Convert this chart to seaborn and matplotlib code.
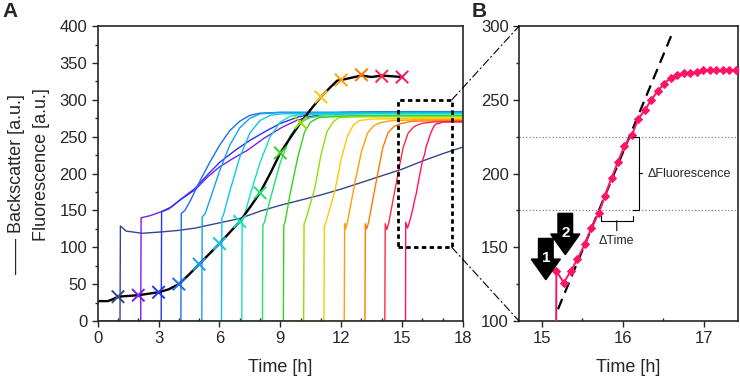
import matplotlib
matplotlib.use("Agg")
import pandas as pd
import matplotlib.pyplot as plt
import seaborn as sns
from matplotlib.patches import Rectangle, ConnectionPatch, FancyArrow
from matplotlib.ticker import MultipleLocator


# ----------------------------
# Data
# ----------------------------

curve_ids = list(range(1, 16))

curve_colors = ['#34468c', '#7a1fe8', '#2535f0', '#1a6ff5', '#18a0f0',
                '#10c4f0', '#10e0c0', '#20e070', '#38d020', '#90e000',
                '#ffc800', '#ffa000', '#ff7a00', '#ff2848', '#ff1464']

# panel B: zoom on the last fluorescence curve
b_time = [15.17, 15.18, 15.27, 15.36, 15.44, 15.53, 15.61, 15.70, 15.78,
          15.86, 15.94, 16.02, 16.11, 16.19, 16.27, 16.35, 16.43, 16.51,
          16.59, 16.67, 16.75, 16.83, 16.91, 16.99, 17.07, 17.15, 17.23,
          17.31, 17.39]
b_value = [0, 134, 126, 134, 142, 152, 163, 173, 185,
           197, 208, 219, 226, 237, 243, 250, 256, 261,
           265, 267, 268, 268, 269, 270, 270, 270, 270,
           270, 270]

fit_time = [15.2, 16.6]
fit_value = [108, 294]

# fluorescence curves of panel A
fluo_time = [
    [0.1, 1.10, 1.12, 1.4, 2.2, 3.2, 4.0, 4.8, 5.8, 7.0, 8.0, 9.0, 10.0,
     11.0, 12.0, 13.0, 14.0, 15.0, 16.0, 17.0, 18.0],
    [1.1, 2.12, 2.14, 2.6, 3.1, 3.65, 4.05, 4.8, 5.4, 6.0, 6.7, 7.4, 8.2,
     9.1, 9.8, 10.4, 11.0, 12.0, 14.0, 16.0, 18.0],
    [2.1, 3.13, 3.15, 3.5, 4.0, 4.8, 5.4, 6.0, 6.8, 7.5, 8.25, 9.0, 9.9,
     10.6, 12.0, 15.0, 18.0],
    [3.1, 4.10, 4.12, 4.3, 4.6, 5.0, 5.5, 6.0, 6.5, 7.0, 7.5, 8.0, 9.0,
     12.0, 15.0, 18.0],
    [4.1, 5.13, 5.15, 5.3, 5.6, 6.0, 6.5, 7.0, 7.5, 8.0, 9.0, 12.0, 15.0, 18.0],
    [5.1, 6.10, 6.12, 6.2, 6.5, 7.0, 7.5, 8.0, 8.5, 9.0, 12.0, 15.0, 18.0],
    [6.1, 7.10, 7.12, 7.2, 7.5, 8.0, 8.5, 9.0, 9.5, 10.0, 13.0, 18.0],
    [7.1, 8.12, 8.14, 8.22, 8.5, 9.0, 9.5, 10.0, 10.5, 11.0, 14.0, 18.0],
    [8.1, 9.15, 9.17, 9.24, 9.5, 9.87, 10.2, 10.5, 10.9, 11.5, 14.0, 18.0],
    [9.1, 10.15, 10.17, 10.25, 10.7, 11.0, 11.3, 11.6, 11.9, 12.5, 15.0, 18.0],
    [10.1, 11.15, 11.17, 11.24, 11.7, 12.0, 12.3, 12.6, 12.9, 13.5, 16.0, 18.0],
    [11.1, 12.15, 12.17, 12.22, 12.3, 12.7, 13.0, 13.3, 13.6, 13.9, 14.5,
     16.0, 18.0],
    [12.1, 13.17, 13.19, 13.26, 13.35, 13.8, 14.05, 14.3, 14.6, 14.96, 15.5, 18.0],
    [13.1, 14.15, 14.17, 14.25, 14.35, 14.8, 15.05, 15.3, 15.6, 15.96, 16.5, 18.0],
    [14.2] + b_time + [18.0],
]
fluo_value = [
    [0, 0, 129, 122, 119, 121, 123, 126, 132, 139, 149, 157, 164,
     171, 179, 188, 197, 206, 217, 227, 236],
    [0, 0, 140, 143, 148, 155, 164, 178, 195, 209, 221, 232, 248,
     263, 272, 277, 280, 281, 282, 283, 283],
    [0, 0, 148, 152, 163, 180, 198, 215, 232, 245, 257, 268, 277,
     281, 283, 284, 284],
    [0, 0, 146, 150, 165, 188, 214, 238, 258, 271, 279, 282, 283,
     283, 284, 284],
    [0, 0, 141, 146, 170, 203, 238, 262, 275, 281, 283, 283, 283, 283],
    [0, 0, 140, 144, 175, 222, 255, 272, 279, 281, 282, 282, 282],
    [0, 0, 137, 140, 170, 215, 250, 270, 278, 280, 281, 281],
    [0, 0, 130, 134, 165, 215, 252, 270, 276, 278, 279, 279],
    [0, 0, 130, 135, 175, 223, 257, 270, 276, 277, 278, 278],
    [0, 0, 132, 137, 180, 225, 257, 270, 276, 277, 277, 277],
    [0, 0, 128, 133, 178, 220, 250, 266, 272, 274, 275, 275],
    [0, 0, 132, 125, 133, 191, 230, 255, 265, 269, 272, 273, 273],
    [0, 0, 132, 125, 134, 200, 235, 255, 264, 268, 271, 272],
    [0, 0, 132, 124, 134, 200, 235, 255, 264, 268, 270, 271],
    [0] + b_value + [270],
]

# backscatter (black)
bs_time = [0, 0.5, 0.7, 1.0, 1.5, 2.0, 2.5, 3.0, 3.5, 4.0, 4.5, 5.0, 5.5,
           6.0, 6.5, 7.0, 7.5, 8.0, 8.5, 9.0, 9.5, 10.0, 10.5, 11.0, 11.5,
           11.8, 12.0, 12.5, 13.0, 13.5, 14.0, 14.5, 15.0]
bs_value = [27, 27, 29, 33, 34, 35, 37, 39, 43, 50, 63, 77, 91,
            105, 120, 135, 154, 174, 200, 228, 249, 269, 287, 304, 318,
            326, 327, 330, 333, 331, 333, 332, 331]

# sampling crosses on the backscatter curve
marker_time = list(range(1, 16))
marker_value = [33, 35, 39, 50, 77, 105, 135, 174, 228, 269, 304, 327, 334, 332, 331]


# ----------------------------
# Style
# ----------------------------

sns.set_style("ticks")
plt.rcParams['font.family'] = ['Liberation Sans', 'DejaVu Sans']
plt.rcParams['axes.linewidth'] = 1.2

fig = plt.figure(figsize=(7.4, 3.79), dpi=100)
axA = fig.add_axes([0.132, 0.153, 0.4936, 0.778])
axB = fig.add_axes([0.7014, 0.153, 0.296, 0.778])

palette = dict(zip(curve_ids, curve_colors))


# ----------------------------
# Panel A
# ----------------------------

rows = []
for cid, ts, vs in zip(curve_ids, fluo_time, fluo_value):
    for t, v in zip(ts, vs):
        rows.append((cid, t, v))
df = pd.DataFrame(rows, columns=['curve', 'time', 'value'])

sns.lineplot(data=df, x='time', y='value', hue='curve', hue_order=curve_ids,
             palette=palette, estimator=None, errorbar=None, legend=False,
             lw=1.0, ax=axA)

sns.lineplot(x=bs_time, y=bs_value, color='black', lw=1.7,
             estimator=None, errorbar=None, ax=axA)

sns.scatterplot(x=marker_time, y=marker_value, hue=curve_ids, palette=palette,
                marker='x', s=80, linewidth=1.4, legend=False, ax=axA, zorder=4)

axA.set_xlim(0, 18)
axA.set_ylim(0, 400)
axA.xaxis.set_major_locator(MultipleLocator(3))
axA.xaxis.set_minor_locator(MultipleLocator(1))
axA.yaxis.set_major_locator(MultipleLocator(50))
axA.yaxis.set_minor_locator(MultipleLocator(25))
axA.set_xlabel('Time [h]', fontsize=13, labelpad=9)
axA.set_ylabel('')

axA.add_patch(Rectangle((14.78, 100), 17.45 - 14.78, 200, fill=False,
                        ec='black', lw=2, ls=(0, (1.6, 1.2)), zorder=5))


# ----------------------------
# Panel B
# ----------------------------

axB.axhline(225, color='gray', ls=':', lw=0.9)
axB.axhline(175, color='gray', ls=':', lw=0.9)

sns.lineplot(x=fit_time, y=fit_value, color='black', lw=1.6,
             linestyle=(0, (5, 3)), ax=axB)

sns.lineplot(x=b_time, y=b_value, color=curve_colors[-1], lw=1.4,
             marker='D', markersize=4.5, markeredgecolor=curve_colors[-1],
             estimator=None, errorbar=None, ax=axB, zorder=3)

axB.set_xlim(14.72, 17.42)
axB.set_ylim(100, 300)
axB.xaxis.set_major_locator(MultipleLocator(1))
axB.xaxis.set_minor_locator(MultipleLocator(0.5))
axB.yaxis.set_major_locator(MultipleLocator(50))
axB.yaxis.set_minor_locator(MultipleLocator(25))
axB.set_xlabel('Time [h]', fontsize=13, labelpad=9)
axB.set_ylabel('')

# brackets
axB.annotate('ΔFluorescence', xy=(16.2, 200), xytext=(16.3, 200),
             fontsize=9, va='center', ha='left',
             arrowprops=dict(arrowstyle='-[, widthB=2.9, lengthB=0.5',
                             lw=0.8, color='black', shrinkA=1, shrinkB=0))
axB.annotate('ΔTime', xy=(15.925, 168), xytext=(15.925, 154),
             fontsize=9, va='center', ha='center',
             arrowprops=dict(arrowstyle='-[, widthB=1.3, lengthB=0.4',
                             lw=0.8, color='black', shrinkA=1, shrinkB=0))

# block arrows 1 and 2
axB.add_patch(FancyArrow(15.05, 156, 0, -28, width=0.18, head_width=0.36,
                         head_length=14, length_includes_head=True,
                         color='black', zorder=5))
axB.add_patch(FancyArrow(15.29, 173, 0, -28, width=0.18, head_width=0.36,
                         head_length=14, length_includes_head=True,
                         color='black', zorder=5))
axB.text(15.05, 143, '1', color='white', fontsize=11, fontweight='bold',
         ha='center', va='center', zorder=6)
axB.text(15.29, 160, '2', color='white', fontsize=11, fontweight='bold',
         ha='center', va='center', zorder=6)


# ----------------------------
# Axes cosmetics
# ----------------------------

for ax in (axA, axB):
    ax.tick_params(which='major', direction='out', length=4, width=1,
                   labelsize=12)
    ax.tick_params(axis='y', which='minor', direction='out', length=2.5, width=1)
    ax.tick_params(axis='x', which='minor', direction='in', length=2.5, width=1)
    for sp in ax.spines.values():
        sp.set_linewidth(1.2)


# ----------------------------
# Zoom connectors
# ----------------------------

for ya, yb in ((300, 1), (100, 0)):
    con = ConnectionPatch(xyA=(17.45, ya), coordsA=axA.transData,
                          xyB=(0, yb), coordsB=axB.transAxes,
                          color='black', lw=0.8, ls=(0, (7, 3, 1, 3)))
    fig.add_artist(con)


# ----------------------------
# Labels
# ----------------------------

fig.text(0.0226, 0.514, '—— Backscatter [a.u.]', rotation=90,
         fontsize=13, ha='center', va='center')
fig.text(0.056, 0.565, 'Fluorescence [a.u.]', rotation=90,
         fontsize=13, ha='center', va='center')

fig.text(0.003, 0.995, 'A', fontsize=15, fontweight='bold', ha='left', va='top')
fig.text(0.638, 0.995, 'B', fontsize=15, fontweight='bold', ha='left', va='top')

fig.savefig('out.png', dpi=100)
plt.close()
